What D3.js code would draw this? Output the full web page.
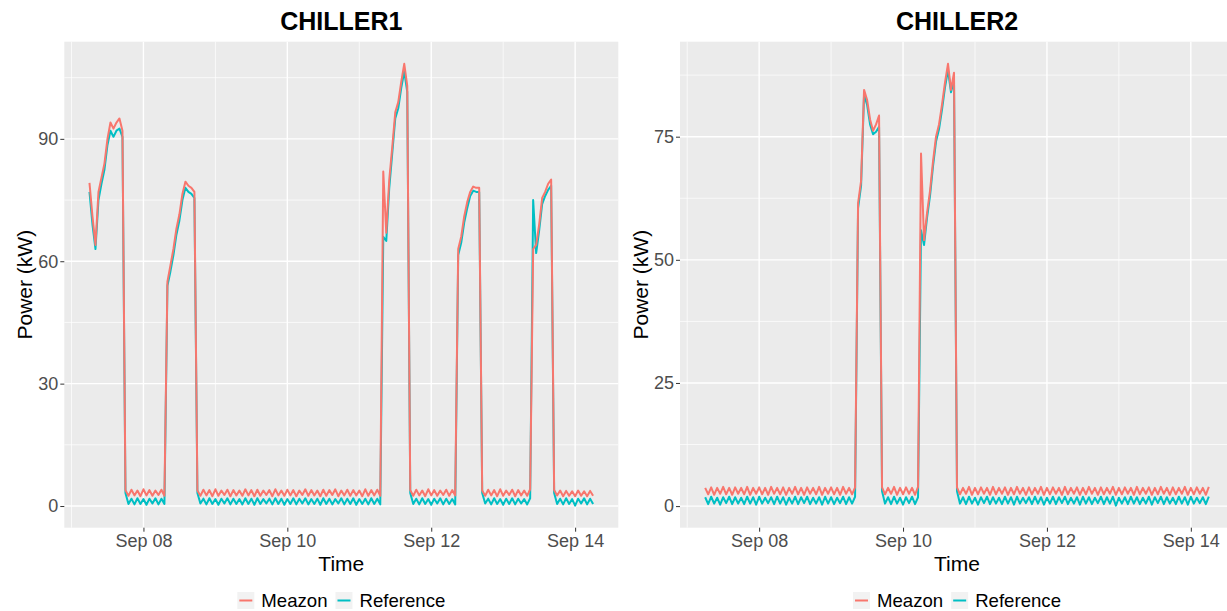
<!DOCTYPE html>
<html>
<head>
<meta charset="utf-8">
<script src="https://cdn.jsdelivr.net/npm/d3@7"></script>
<style>
  body { margin: 0; background: #fff; }
  text { font-family: "Liberation Sans", Arial, sans-serif; }
</style>
</head>
<body>
<svg id="chart" width="1227" height="611"></svg>
<script>
// hourly readings, first one at Sep 07 06:00, last one at Sep 14 06:00
const startTime = Date.UTC(2017, 8, 7, 6);

const seriesNames = ["Meazon", "Reference"];
const seriesColors = ["#F8766D", "#00BFC4"];

// CHILLER1
const c1Meazon = [
  79.2, 71.0, 64.0, 77.0, 80.5, 84.0, 90.0, 94.0, 92.5, 94.0, 95.0, 92.0,
  3.9, 2.5, 4.0, 2.6, 3.8, 2.4, 4.1, 2.6, 3.9, 2.5, 3.8, 2.7, 4.0, 2.5,
  55.0, 59.0, 63.0, 68.0, 71.5, 76.5, 79.5, 78.5, 78.0, 77.0,
  3.8, 2.5, 4.0, 2.6, 3.9, 2.4, 4.1, 2.5, 3.8, 2.7, 4.0, 2.4, 3.9, 2.6, 3.8, 2.5, 4.1, 2.6, 3.9, 2.4,
  4.0, 2.5, 3.8, 2.7, 3.9, 2.4, 4.1, 2.6, 3.8, 2.5, 4.0, 2.6, 3.9, 2.4, 3.8, 2.7, 4.1, 2.5, 3.9, 2.6,
  3.8, 2.4, 4.0, 2.5, 3.9, 2.7, 4.1, 2.4, 3.8, 2.6, 4.0, 2.5, 3.9, 2.6, 3.8, 2.4, 4.1, 2.5, 3.9, 2.6,
  4.0, 2.5,
  82.0, 67.0, 80.0, 88.0, 96.5, 99.0, 104.0, 108.4, 103.0,
  3.9, 2.5, 4.0, 2.6, 3.8, 2.4, 4.1, 2.6, 3.9, 2.5, 3.8, 2.7, 4.0, 2.5, 3.9, 2.6,
  63.0, 66.0, 71.0, 74.5, 77.0, 78.3, 78.0, 78.0,
  3.8, 2.5, 4.0, 2.6, 3.9, 2.4, 4.1, 2.5, 3.8, 2.7, 4.0, 2.4, 3.9, 2.6, 3.8, 2.5, 4.1,
  63.0, 64.0, 69.0, 75.5, 77.0, 79.0, 80.0,
  3.9, 2.6, 3.8, 2.4, 3.7, 2.5, 3.6, 2.4, 3.8, 2.5, 3.6, 2.4, 3.7, 2.5
];
const c1Reference = [
  77.0, 69.0, 63.0, 75.0, 79.0, 82.5, 88.5, 92.0, 90.5, 92.0, 92.5, 90.5,
  3.2, 0.5, 1.8, 0.4, 1.9, 0.5, 1.7, 0.3, 1.8, 0.6, 1.9, 0.4, 1.8, 0.5,
  54.0, 57.5, 61.5, 66.5, 70.0, 75.0, 78.0, 77.0, 76.5, 75.5,
  3.2, 0.6, 1.8, 0.4, 1.9, 0.5, 1.7, 0.3, 1.8, 0.6, 1.9, 0.4, 1.8, 0.5, 1.7, 0.4, 1.9, 0.5, 1.8, 0.3,
  1.9, 0.5, 1.7, 0.6, 1.8, 0.4, 1.9, 0.5, 1.8, 0.3, 1.7, 0.5, 1.9, 0.4, 1.8, 0.6, 1.9, 0.4, 1.7, 0.5,
  1.8, 0.3, 1.9, 0.5, 1.8, 0.4, 1.7, 0.6, 1.9, 0.4, 1.8, 0.5, 1.9, 0.3, 1.7, 0.5, 1.8, 0.4, 1.9, 0.5,
  1.8, 0.4,
  66.0, 65.0, 78.0, 86.5, 95.0, 97.5, 102.5, 106.5, 101.5,
  3.2, 0.5, 1.8, 0.4, 1.9, 0.5, 1.7, 0.3, 1.8, 0.6, 1.9, 0.4, 1.8, 0.5, 1.7, 0.4,
  61.5, 64.5, 69.5, 73.0, 76.0, 77.3, 77.0, 77.0,
  3.2, 0.6, 1.8, 0.4, 1.9, 0.5, 1.7, 0.3, 1.8, 0.5, 1.9, 0.4, 1.8, 0.6, 1.7, 0.4, 1.9,
  75.0, 62.0, 67.5, 74.0, 76.0, 77.5, 78.5,
  3.2, 0.5, 1.8, 0.4, 1.9, 0.5, 1.7, 0.1, 1.8, 0.6, 1.9, 0.4, 1.8, 0.5
];

// CHILLER2
const c2Meazon = [
  3.7, 2.4, 3.8, 2.3, 3.7, 2.5, 3.9, 2.4, 3.7, 2.3, 3.8, 2.5, 3.7, 2.4, 3.9, 2.3, 3.7, 2.5, 3.8, 2.4,
  3.7, 2.3, 3.9, 2.5, 3.7, 2.4, 3.8, 2.3, 3.7, 2.5, 3.9, 2.4, 3.7, 2.3, 3.8, 2.5, 3.7, 2.4, 3.9, 2.3,
  3.7, 2.5, 3.8, 2.4, 3.7, 2.3, 3.9, 2.5, 3.7, 2.4, 3.8,
  61.5, 66.0, 84.5, 82.5, 78.5, 76.2, 77.5, 79.3,
  3.8, 2.4, 3.7, 2.5, 3.9, 2.3, 3.7, 2.4, 3.8, 2.5, 3.7, 2.3, 3.9,
  71.6, 54.0, 59.5, 64.0, 70.0, 75.0, 77.5, 81.5, 86.0, 89.8, 84.5, 88.0,
  3.8, 2.4, 3.7, 2.5, 3.9, 2.3, 3.7, 2.4, 3.8, 2.5, 3.7, 2.3, 3.9, 2.4, 3.7, 2.5, 3.8, 2.3, 3.7, 2.4,
  3.9, 2.5, 3.7, 2.3, 3.8, 2.4, 3.7, 2.5, 3.9, 2.3, 3.7, 2.4, 3.8, 2.5, 3.7, 2.3, 3.9, 2.4, 3.7, 2.5,
  3.8, 2.3, 3.7, 2.4, 3.9, 2.5, 3.7, 2.3, 3.8, 2.4, 3.7, 2.5, 3.9, 2.3, 3.7, 2.4, 3.8, 2.5, 3.7, 2.3,
  3.9, 2.4, 3.7, 2.5, 3.8, 2.3, 3.7, 2.4, 3.9, 2.5, 3.7, 2.3, 3.8, 2.4, 3.7, 2.5, 3.9, 2.3, 3.7, 2.4,
  3.8, 2.5, 3.7, 2.3, 3.9
];
const c2Reference = [
  1.8, 0.4, 1.9, 0.5, 1.7, 0.3, 1.8, 0.6, 1.9, 0.4, 1.8, 0.5, 1.7, 0.4, 1.9, 0.5, 1.8, 0.3, 1.9, 0.5,
  1.7, 0.6, 1.8, 0.4, 1.9, 0.5, 1.8, 0.3, 1.7, 0.5, 1.9, 0.4, 1.8, 0.6, 1.9, 0.4, 1.7, 0.5, 1.8, 0.3,
  1.9, 0.5, 1.8, 0.4, 1.7, 0.6, 1.9, 0.4, 1.8, 0.5, 1.9,
  60.5, 65.0, 83.5, 81.5, 77.5, 75.5, 76.0, 77.0,
  3.0, 0.5, 1.8, 0.4, 1.9, 0.5, 1.7, 0.3, 1.8, 0.6, 1.9, 0.4, 1.8,
  56.0, 53.0, 58.5, 63.0, 69.0, 74.0, 76.5, 80.5, 85.0, 88.5, 84.0, 86.5,
  3.0, 0.5, 1.8, 0.4, 1.9, 0.5, 1.7, 0.3, 1.8, 0.6, 1.9, 0.4, 1.8, 0.5, 1.7, 0.4, 1.9, 0.5, 1.8, 0.3,
  1.9, 0.5, 1.7, 0.6, 1.8, 0.4, 1.9, 0.5, 1.8, 0.3, 1.7, 0.5, 1.9, 0.4, 1.8, 0.6, 1.9, 0.4, 1.7, 0.5,
  1.8, 0.3, 1.9, 0.5, 1.8, 0.4, 1.7, 0.6, 1.9, 0.4, 1.8, 0.5, 1.9, 0.1, 1.7, 0.5, 1.8, 0.4, 1.9, 0.5,
  1.8, 0.4, 1.7, 0.5, 1.9, 0.3, 1.8, 0.6, 1.9, 0.4, 1.8, 0.5, 1.7, 0.4, 1.9, 0.5, 1.8, 0.3, 1.9, 0.5,
  1.7, 0.6, 1.8, 0.4, 1.9
];

// axis ticks
const xMajorTicks = ["2017-09-08", "2017-09-10", "2017-09-12", "2017-09-14"];
const xMinorTicks = ["2017-09-07", "2017-09-09", "2017-09-11", "2017-09-13", "2017-09-15"];
const c1YTicks = [0, 30, 60, 90];
const c1YMinor = [15, 45, 75, 105];
const c2YTicks = [0, 25, 50, 75];
const c2YMinor = [12.5, 37.5, 62.5, 87.5];

const svg = d3.select("#chart");

const dim = { top: 41.7, bottom: 527.7 };

const panels = [
  { title: "CHILLER1", series: [c1Meazon, c1Reference], yTicks: c1YTicks, yMinor: c1YMinor, left: 64.3, right: 618.3 },
  { title: "CHILLER2", series: [c2Meazon, c2Reference], yTicks: c2YTicks, yMinor: c2YMinor, left: 680, right: 1234 }
];

const parseDay = d3.utcParse("%Y-%m-%d");

panels.forEach(p => {
  const times = p.series[0].map((_, i) => new Date(startTime + i * 3600e3));
  const tExt = d3.extent(times);
  const tPad = (tExt[1] - tExt[0]) * 0.05;
  const x = d3.scaleUtc()
    .domain([new Date(+tExt[0] - tPad), new Date(+tExt[1] + tPad)])
    .range([p.left, p.right]);

  const all = p.series.flat();
  const yMin = d3.min(all), yMax = d3.max(all);
  const yPad = (yMax - yMin) * 0.05;
  const y = d3.scaleLinear()
    .domain([yMin - yPad, yMax + yPad])
    .range([dim.bottom, dim.top]);

  const g = svg.append("g");

  g.append("rect")
    .attr("x", p.left).attr("y", dim.top)
    .attr("width", p.right - p.left).attr("height", dim.bottom - dim.top)
    .attr("fill", "#EBEBEB");

  // minor grid
  g.selectAll(".ymin").data(p.yMinor).join("line")
    .attr("x1", p.left).attr("x2", p.right)
    .attr("y1", d => y(d)).attr("y2", d => y(d))
    .attr("stroke", "#fff").attr("stroke-width", 0.7);
  g.selectAll(".xmin").data(xMinorTicks.map(parseDay).filter(d => x(d) > p.left && x(d) < p.right)).join("line")
    .attr("x1", d => x(d)).attr("x2", d => x(d))
    .attr("y1", dim.top).attr("y2", dim.bottom)
    .attr("stroke", "#fff").attr("stroke-width", 0.7);

  // major grid
  g.append("g").selectAll("line").data(p.yTicks).join("line")
    .attr("x1", p.left).attr("x2", p.right)
    .attr("y1", d => y(d)).attr("y2", d => y(d))
    .attr("stroke", "#fff").attr("stroke-width", 1.4);
  g.append("g").selectAll("line").data(xMajorTicks.map(parseDay)).join("line")
    .attr("x1", d => x(d)).attr("x2", d => x(d))
    .attr("y1", dim.top).attr("y2", dim.bottom)
    .attr("stroke", "#fff").attr("stroke-width", 1.4);

  // lines: Reference underneath, Meazon on top
  const line = d3.line()
    .x((d, i) => x(times[i]))
    .y(d => y(d));
  [1, 0].forEach(k => {
    g.append("path")
      .datum(p.series[k])
      .attr("d", line)
      .attr("fill", "none")
      .attr("stroke", seriesColors[k])
      .attr("stroke-width", 2)
      .attr("stroke-linejoin", "round");
  });

  // axes
  const yAxis = g.append("g")
    .attr("transform", `translate(${p.left},0)`)
    .call(d3.axisLeft(y).tickValues(p.yTicks).tickSize(4).tickPadding(2));
  const xAxis = g.append("g")
    .attr("transform", `translate(0,${dim.bottom})`)
    .call(d3.axisBottom(x).tickValues(xMajorTicks.map(parseDay))
      .tickFormat(d3.utcFormat("%b %d")).tickSize(4).tickPadding(2.5));
  [yAxis, xAxis].forEach(a => {
    a.select(".domain").remove();
    a.selectAll(".tick line").attr("stroke", "#333").attr("stroke-width", 1);
    a.selectAll(".tick text")
      .attr("fill", "#4D4D4D")
      .style("font-size", "18px")
      .style("font-family", "'Liberation Sans', Arial, sans-serif");
  });

  const cx = (p.left + p.right) / 2;

  g.append("text")
    .attr("x", cx).attr("y", 30)
    .attr("text-anchor", "middle")
    .style("font-size", "25px").style("font-weight", "bold")
    .text(p.title);

  g.append("text")
    .attr("x", cx).attr("y", 571)
    .attr("text-anchor", "middle")
    .style("font-size", "21px")
    .text("Time");

  g.append("text")
    .attr("transform", `translate(${p.left - 32},${(dim.top + dim.bottom) / 2}) rotate(-90)`)
    .attr("text-anchor", "middle")
    .style("font-size", "21px")
    .text("Power (kW)");

  // legend
  const leg = g.append("g");
  let off = 0;
  seriesNames.forEach((name, k) => {
    const item = leg.append("g").attr("transform", `translate(${off},0)`);
    item.append("rect")
      .attr("x", 0).attr("y", 592).attr("width", 17).attr("height", 17)
      .attr("fill", "#F2F2F2");
    item.append("line")
      .attr("x1", 2).attr("x2", 15).attr("y1", 600.5).attr("y2", 600.5)
      .attr("stroke", seriesColors[k]).attr("stroke-width", 2);
    const t = item.append("text")
      .attr("x", 24).attr("y", 607)
      .style("font-size", "18.6px")
      .text(name);
    off += 24 + t.node().getComputedTextLength() + 8;
  });
  const legW = off - 8;
  leg.attr("transform", `translate(${cx - legW / 2},0)`);
});
</script>
</body>
</html>
